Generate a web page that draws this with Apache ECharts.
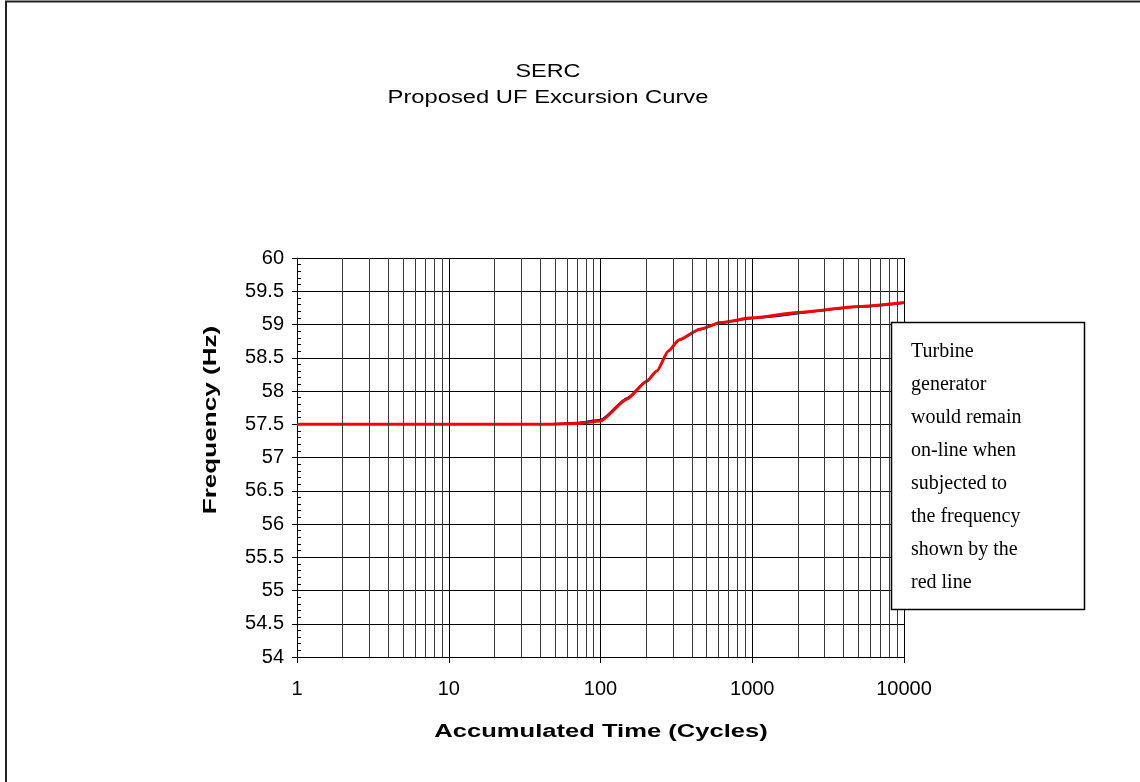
<!DOCTYPE html>
<html>
<head>
<meta charset="utf-8">
<script src="https://cdn.jsdelivr.net/npm/echarts@6/dist/echarts.min.js"></script>
<style>
html,body{margin:0;padding:0;background:#fff;}
#c{width:1140px;height:782px;}
</style>
</head>
<body>
<div id="c"></div>
<script>
// Data
var titleLines = ['SERC', 'Proposed UF Excursion Curve'];
var xAxisName = 'Accumulated Time (Cycles)';
var yAxisName = 'Frequency (Hz)';
var noteLines = ['Turbine', 'generator', 'would remain', 'on-line when', 'subjected to', 'the frequency', 'shown by the', 'red line'];
var yTicks = [54, 54.5, 55, 55.5, 56, 56.5, 57, 57.5, 58, 58.5, 59, 59.5, 60];
var xMinorGrid = [2,3,4,5,6,7,8,9,20,30,40,50,60,70,80,90,200,300,400,500,600,700,800,900,2000,3000,4000,5000,6000,7000,8000,9000];
var blueTime = [1, 40, 70, 100, 150, 200, 235, 280, 330, 450, 620, 1000, 5000, 10000];
var blueFreq = [57.5, 57.5, 57.525, 57.57, 57.9, 58.15, 58.3, 58.6, 58.76, 58.92, 59.02, 59.09, 59.26, 59.32];
var redTime = [1, 40, 70, 100, 150, 200, 235, 280, 330, 450, 620, 1000, 2000, 5000, 10000];
var redFreq = [57.5, 57.5, 57.51, 57.55, 57.88, 58.14, 58.3, 58.6, 58.77, 58.93, 59.03, 59.1, 59.18, 59.27, 59.33];

function pairs(xs, ys) { return xs.map(function (x, i) { return [x, ys[i]]; }); }

var chart = echarts.init(document.getElementById('c'), null, {renderer: 'canvas'});
var font = '"Liberation Sans", Arial, sans-serif';
var option = {
  backgroundColor: '#fff',
  animation: false,
  grid: {left: 297, right: 236, top: 258, bottom: 125, containLabel: false},
  xAxis: {
    type: 'log', logBase: 10, min: 1, max: 10000,
    axisLine: {show: true, lineStyle: {color: '#000', width: 1}},
    axisTick: {show: true, length: 6, lineStyle: {color: '#000'}},
    axisLabel: {fontFamily: font, fontSize: 20, color: '#000', margin: 22,
      formatter: function (v) { return String(Math.round(v)); }},
    splitLine: {show: true, lineStyle: {color: '#000', width: 1}}
  },
  yAxis: [{
    type: 'value', min: 54, max: 60, interval: 0.5,
    axisLine: {show: true, lineStyle: {color: '#000', width: 1}},
    axisTick: {show: true, length: 5, lineStyle: {color: '#000'}},
    axisLabel: {fontFamily: font, fontSize: 20, color: '#000', margin: 13,
      formatter: function (v) { return yTicks.indexOf(v) >= 0 ? String(v) : ''; }},
    splitLine: {show: true, lineStyle: {color: '#000', width: 1}}
  }, {
    type: 'value', min: 54, max: 60, interval: 0.5, position: 'left',
    axisLine: {show: false},
    axisTick: {show: true, inside: true, length: 4, lineStyle: {color: '#000'}},
    minorTick: {show: true, splitNumber: 5, length: 4, lineStyle: {color: '#000'}},
    axisLabel: {show: false},
    splitLine: {show: false}
  }],
  series: [{
    type: 'line', name: 'minor', data: [],
    silent: true,
    markLine: {
      silent: true, symbol: 'none', animation: false,
      label: {show: false},
      lineStyle: {color: '#3a3a3a', width: 1, type: 'solid'},
      data: xMinorGrid.map(function (v) { return {xAxis: v}; })
    }
  }, {
    type: 'line', name: 'blue', data: pairs(blueTime, blueFreq),
    showSymbol: false, smooth: 0.2, smoothMonotone: 'x',
    lineStyle: {color: '#000080', width: 1.5}, z: 3
  }, {
    type: 'line', name: 'red', data: pairs(redTime, redFreq),
    showSymbol: false, smooth: 0.2, smoothMonotone: 'x',
    lineStyle: {color: '#ff0000', width: 3}, z: 4
  }],
  graphic: [{
    type: 'rect', silent: true,
    shape: {x: 6, y: 1.5, width: 1200, height: 900},
    style: {fill: 'none', stroke: '#222', lineWidth: 2}, z: 100
  }, {
    type: 'text', silent: true, x: 548, y: 72, scaleX: 1.3, scaleY: 1,
    style: {text: titleLines[0], font: '18px ' + font, fill: '#000', textAlign: 'center', textVerticalAlign: 'middle'}
  }, {
    type: 'text', silent: true, x: 548, y: 98, scaleX: 1.32, scaleY: 1,
    style: {text: titleLines[1], font: '18px ' + font, fill: '#000', textAlign: 'center', textVerticalAlign: 'middle'}
  }, {
    type: 'text', silent: true, x: 601, y: 732, scaleX: 1.42, scaleY: 1,
    style: {text: xAxisName, font: 'bold 18px ' + font, fill: '#000', textAlign: 'center', textVerticalAlign: 'middle'}
  }, {
    type: 'text', silent: true, x: 211, y: 420, rotation: Math.PI / 2, scaleX: 1.45, scaleY: 1,
    style: {text: yAxisName, font: 'bold 18px ' + font, fill: '#000', textAlign: 'center', textVerticalAlign: 'middle'}
  }, {
    type: 'rect', silent: true, z: 100,
    shape: {x: 891.5, y: 322.5, width: 193, height: 287},
    style: {fill: '#fff', stroke: '#000', lineWidth: 1.5}
  }, {
    type: 'text', x: 911, y: 335, silent: true, z: 101,
    style: {text: noteLines.join('\n'), font: '20px "Liberation Serif", "Times New Roman", serif', fill: '#000', lineHeight: 33}
  }]
};
chart.setOption(option);
</script>
</body>
</html>
